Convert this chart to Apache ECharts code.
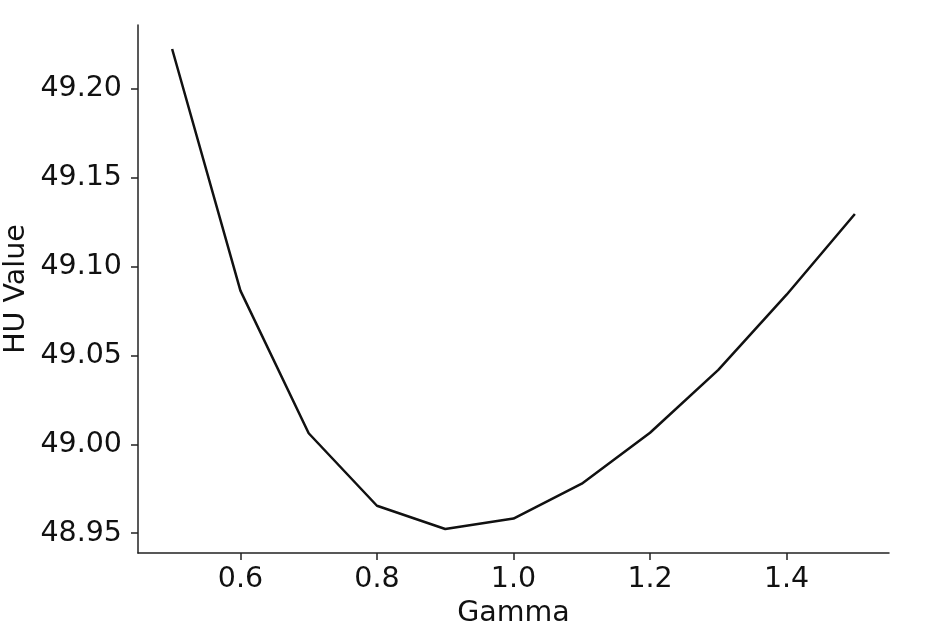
<!DOCTYPE html>
<html>
<head>
<meta charset="utf-8">
<script src="https://cdn.jsdelivr.net/npm/echarts@6/dist/echarts.min.js"></script>
<style>
html,body{margin:0;padding:0;background:#fff;}
#chart{width:926px;height:637px;}
</style>
</head>
<body>
<div id="chart"></div>
<script>
const gamma = [0.5, 0.6, 0.7, 0.8, 0.9, 1.0, 1.1, 1.2, 1.3, 1.4, 1.5];
const huValue = [49.2225, 49.0865, 49.0062, 48.9654, 48.9523, 48.9582, 48.9778, 49.0065, 49.0419, 49.0842, 49.1296];
const xTicks = [0.6, 0.8, 1.0, 1.2, 1.4];
const yTicks = [48.95, 49.00, 49.05, 49.10, 49.15, 49.20];

const FONT = 'DejaVu Sans';
const FS = 28.5;
const NFS = 28.5;
const chart = echarts.init(document.getElementById('chart'));
chart.setOption({
  animation: false,
  backgroundColor: '#fff',
  grid: {left: 138, right: 37, top: 25, bottom: 84, containLabel: false, outerBoundsMode: 'none'},
  xAxis: {
    type: 'value',
    min: 0.45, max: 1.55,
    name: 'Gamma',
    nameLocation: 'middle',
    nameGap: 46,
    nameMoveOverlap: false,
    nameTextStyle: {fontFamily: FONT, fontSize: NFS, color: '#111'},
    axisLine: {show: true, lineStyle: {color: '#222', width: 1.5}},
    axisTick: {show: true, length: 7, customValues: xTicks, lineStyle: {color: '#222', width: 1.5}},
    axisLabel: {customValues: xTicks, margin: 12, fontFamily: FONT, fontSize: FS, color: '#111',
      formatter: v => Number(v).toFixed(1)},
    splitLine: {show: false}
  },
  yAxis: {
    type: 'value',
    min: 48.9388, max: 49.236,
    name: 'HU Value',
    nameLocation: 'middle',
    nameGap: 107,
    nameMoveOverlap: false,
    nameTextStyle: {fontFamily: FONT, fontSize: NFS, color: '#111'},
    axisLine: {show: true, lineStyle: {color: '#222', width: 1.5}},
    axisTick: {show: true, length: 7, customValues: yTicks, lineStyle: {color: '#222', width: 1.5}},
    axisLabel: {customValues: yTicks, margin: 16, fontFamily: FONT, fontSize: FS, color: '#111',
      formatter: v => Number(v).toFixed(2)},
    splitLine: {show: false}
  },
  series: [{
    type: 'line',
    data: gamma.map((g, i) => [g, huValue[i]]),
    showSymbol: false,
    lineStyle: {color: '#111', width: 2.5},
    itemStyle: {color: '#111'}
  }]
});
</script>
</body>
</html>
